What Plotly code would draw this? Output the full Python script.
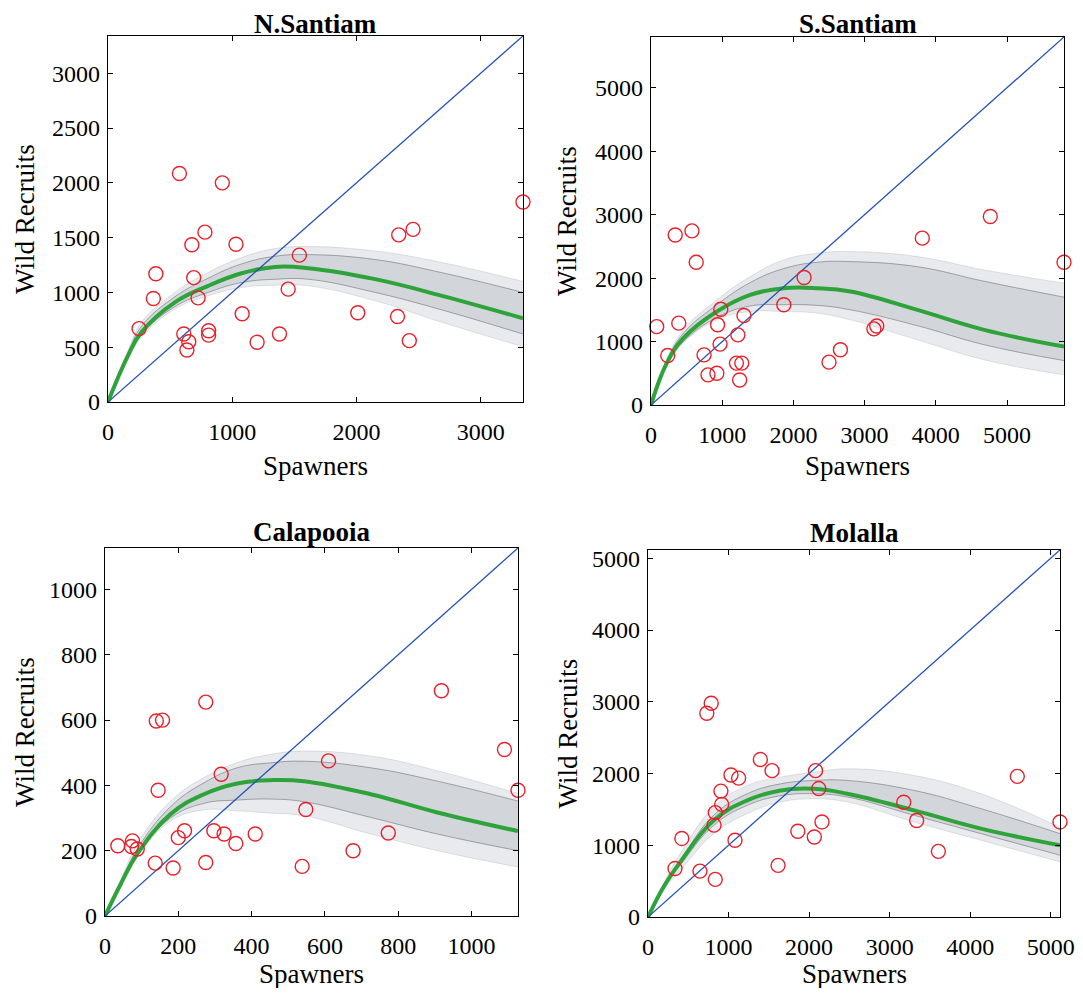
import plotly.graph_objects as go

# ---------------- data ----------------
TITLES = ["N.Santiam", "S.Santiam", "Calapooia", "Molalla"]
AXMAX = [3340, 5800, 1127, 5115]
XTICKS = [[0, 1000, 2000, 3000],
          [0, 1000, 2000, 3000, 4000, 5000],
          [0, 200, 400, 600, 800, 1000],
          [0, 1000, 2000, 3000, 4000, 5000]]
YTICKS = [[0, 500, 1000, 1500, 2000, 2500, 3000],
          [0, 1000, 2000, 3000, 4000, 5000],
          [0, 200, 400, 600, 800, 1000],
          [0, 1000, 2000, 3000, 4000, 5000]]

# observed spawners / wild recruits
ns_spawners = [575, 920, 780, 675, 1030, 1540, 385, 690, 365, 725, 1450, 250, 1080,
               610, 650, 635, 810, 810, 1200, 1380, 2010, 2330, 2425, 2340, 2455, 3340]
ns_recruits = [2085, 2000, 1550, 1435, 1440, 1340, 1170, 1135, 945, 950, 1030, 670, 805,
               620, 550, 475, 650, 610, 545, 620, 815, 780, 560, 1525, 1575, 1825]

ss_spawners = [340, 575, 635, 3810, 4765, 5800, 2150, 1865, 980, 1305, 935, 80, 390,
               1220, 970, 235, 745, 3130, 3170, 2660, 2500, 1200, 1275, 800, 925, 1245]
ss_recruits = [2680, 2745, 2250, 2630, 2970, 2250, 2010, 1580, 1510, 1410, 1265, 1235, 1290,
               1105, 960, 780, 790, 1200, 1245, 870, 675, 660, 660, 475, 500, 395]

ca_spawners = [275, 140, 157, 918, 1090, 1127, 317, 610, 145, 548, 35, 75, 72,
               88, 200, 217, 297, 325, 357, 410, 137, 186, 275, 538, 677, 773]
ca_recruits = [655, 597, 600, 690, 510, 385, 434, 475, 385, 326, 215, 230, 213,
               205, 240, 261, 261, 251, 222, 251, 162, 147, 164, 152, 200, 254]

mo_spawners = [785, 730, 4585, 5115, 1395, 1540, 1030, 1125, 2080, 2120, 905, 915, 3175,
               3335, 835, 820, 2160, 420, 1080, 1860, 2065, 3605, 335, 645, 835, 1615]
mo_recruits = [2980, 2840, 1960, 1325, 2195, 2040, 1980, 1935, 2040, 1790, 1755, 1570, 1600,
               1345, 1455, 1280, 1325, 1095, 1070, 1195, 1115, 915, 675, 640, 525, 720]

# fitted curve (green) and posterior band (grey) read at spawner grid positions
ns_grid = [0, 161, 269, 538, 806, 1075, 1344, 1613, 2150, 2688, 3340]
ns_fit = [0, 424, 636, 909, 1060, 1175, 1233, 1221, 1121, 969, 764]
ns_outer_hi = [0, 470, 727, 1000, 1182, 1318, 1400, 1418, 1378, 1273, 1100]
ns_outer_lo = [0, 390, 590, 848, 969, 1045, 1066, 1060, 924, 727, 505]
ns_inner_hi = [0, 445, 690, 960, 1130, 1260, 1330, 1345, 1300, 1180, 1000]
ns_inner_lo = [0, 410, 615, 870, 1000, 1090, 1120, 1120, 1000, 840, 620]

ss_grid = [0, 221, 455, 925, 1394, 1863, 2333, 2802, 3741, 4679, 5800]
ss_fit = [0, 660, 1053, 1473, 1736, 1841, 1841, 1788, 1499, 1184, 921]
ss_outer_hi = [0, 720, 1184, 1657, 2024, 2287, 2392, 2418, 2339, 2129, 1920]
ss_outer_lo = [0, 600, 975, 1342, 1473, 1473, 1447, 1342, 1027, 712, 475]
ss_inner_hi = [0, 690, 1130, 1580, 1930, 2150, 2250, 2260, 2180, 1950, 1700]
ss_inner_lo = [0, 630, 1000, 1380, 1560, 1580, 1570, 1500, 1250, 950, 700]

ca_grid = [0, 43, 88, 179, 270, 361, 452, 543, 725, 907, 1127]
ca_fit = [0, 98, 190, 312, 373, 406, 416, 413, 373, 317, 260]
ca_outer_hi = [0, 110, 220, 352, 424, 470, 495, 505, 490, 445, 375]
ca_outer_lo = [0, 90, 180, 291, 325, 322, 315, 307, 251, 200, 150]
ca_inner_hi = [0, 104, 205, 335, 408, 454, 469, 474, 454, 413, 352]
ca_inner_lo = [0, 94, 185, 300, 345, 355, 358, 350, 302, 251, 200]

mo_grid = [0, 195, 402, 817, 1232, 1646, 2061, 2476, 3305, 4134, 5115]
mo_fit = [0, 421, 768, 1347, 1625, 1764, 1787, 1718, 1486, 1232, 1000]
mo_outer_hi = [0, 470, 884, 1532, 1833, 1949, 2018, 2065, 1972, 1718, 1250]
mo_outer_lo = [0, 380, 653, 1162, 1440, 1602, 1648, 1602, 1324, 1070, 768]
mo_inner_hi = [0, 440, 795, 1420, 1718, 1856, 1903, 1903, 1764, 1510, 1162]
mo_inner_lo = [0, 405, 723, 1278, 1556, 1690, 1718, 1672, 1417, 1162, 861]

PANELS = [
    (ns_spawners, ns_recruits, ns_grid, ns_fit, ns_outer_hi, ns_outer_lo, ns_inner_hi, ns_inner_lo),
    (ss_spawners, ss_recruits, ss_grid, ss_fit, ss_outer_hi, ss_outer_lo, ss_inner_hi, ss_inner_lo),
    (ca_spawners, ca_recruits, ca_grid, ca_fit, ca_outer_hi, ca_outer_lo, ca_inner_hi, ca_inner_lo),
    (mo_spawners, mo_recruits, mo_grid, mo_fit, mo_outer_hi, mo_outer_lo, mo_inner_hi, mo_inner_lo),
]

# ---------------- layout geometry (target page pixel positions) ----------------
PAGE_W, PAGE_H = 1083, 996
BODY_MARGIN = 8      # default page margin; figure sized so the page exactly fits
W, H = PAGE_W - 2 * BODY_MARGIN, PAGE_H - 2 * BODY_MARGIN
BOXES = [(108, 523, 36, 402), (651, 1064, 37, 405), (105, 518, 548, 916), (648, 1060, 550, 917)]
TITLE_Y = [24, 24, 532, 533]
XLABEL_Y = [466, 466, 974, 974]
YLABEL_X = [25, 567, 25, 567]
FONT = "Liberation Serif, Times New Roman, serif"


def px(x):
    return (x - BODY_MARGIN) / W


def py(y):
    return 1 - (y - BODY_MARGIN) / H


fig = go.Figure()
layout = dict(width=W, height=H, margin=dict(l=0, r=0, t=0, b=0, autoexpand=False),
              paper_bgcolor="white", plot_bgcolor="white", showlegend=False,
              font=dict(family=FONT, color="black"))
annotations = []

for i, (sx, ry, grid, fit, ohi, olo, ihi, ilo) in enumerate(PANELS):
    n = i + 1
    xa = "x" if n == 1 else f"x{n}"
    ya = "y" if n == 1 else f"y{n}"
    common = dict(xaxis=xa, yaxis=ya, hoverinfo="skip")
    spl = dict(shape="spline", smoothing=1.2)
    # outer band (faint posterior curves)
    fig.add_trace(go.Scatter(x=grid, y=olo, mode="lines",
                             line=dict(color="rgba(150,155,165,0.45)", width=0.6, **spl), **common))
    fig.add_trace(go.Scatter(x=grid, y=ohi, mode="lines", fill="tonexty",
                             fillcolor="rgba(205,209,216,0.45)",
                             line=dict(color="rgba(150,155,165,0.45)", width=0.6, **spl), **common))
    # inner (dense) band
    fig.add_trace(go.Scatter(x=grid, y=ilo, mode="lines",
                             line=dict(color="rgba(50,52,60,0.55)", width=0.7, **spl), **common))
    fig.add_trace(go.Scatter(x=grid, y=ihi, mode="lines", fill="tonexty",
                             fillcolor="rgba(165,170,180,0.32)",
                             line=dict(color="rgba(50,52,60,0.55)", width=0.7, **spl), **common))
    # fitted curve
    fig.add_trace(go.Scatter(x=grid, y=fit, mode="lines",
                             line=dict(color="#2ea33a", width=4, **spl), **common))
    # 1:1 replacement line
    diag = [0, AXMAX[i]]
    fig.add_trace(go.Scatter(x=diag, y=diag, mode="lines",
                             line=dict(color="#2352b5", width=1.3), **common))
    # observations
    fig.add_trace(go.Scatter(x=sx, y=ry, mode="markers",
                             marker=dict(symbol="circle-open", size=14, color="#e8202a",
                                         line=dict(width=1.4, color="#e8202a")),
                             cliponaxis=False, **common))

    x0, x1, y0, y1 = BOXES[i]
    axis_common = dict(showline=True, linecolor="black", linewidth=1.2, mirror="ticks",
                       ticks="inside", ticklen=5, tickcolor="black", tickwidth=1,
                       showgrid=False, zeroline=False, automargin=False,
                       ticklabeloverflow="allow",
                       tickfont=dict(family=FONT, size=24, color="black"),
                       range=[0, AXMAX[i]], fixedrange=True)
    layout["xaxis" if n == 1 else f"xaxis{n}"] = dict(
        domain=[px(x0), px(x1)], anchor=ya, tickvals=XTICKS[i],
        ticklabelstandoff=8, **axis_common)
    layout["yaxis" if n == 1 else f"yaxis{n}"] = dict(
        domain=[py(y1), py(y0)], anchor=xa, tickvals=YTICKS[i],
        ticklabelstandoff=2, **axis_common)

    cx = (x0 + x1) / 2
    annotations.append(dict(text=f"<b>{TITLES[i]}</b>", x=px(cx), y=py(TITLE_Y[i]),
                            xref="paper", yref="paper", showarrow=False,
                            font=dict(family=FONT, size=27, color="black"),
                            xanchor="center", yanchor="middle"))
    annotations.append(dict(text="Spawners", x=px(cx), y=py(XLABEL_Y[i]),
                            xref="paper", yref="paper", showarrow=False,
                            font=dict(family=FONT, size=27, color="black"),
                            xanchor="center", yanchor="middle"))
    annotations.append(dict(text="Wild Recruits", x=px(YLABEL_X[i]), y=py((y0 + y1) / 2),
                            xref="paper", yref="paper", showarrow=False, textangle=-90,
                            font=dict(family=FONT, size=27, color="black"),
                            xanchor="center", yanchor="middle"))

layout["annotations"] = annotations
fig.update_layout(**layout)
fig.write_html("out.html", config={"displayModeBar": False})
